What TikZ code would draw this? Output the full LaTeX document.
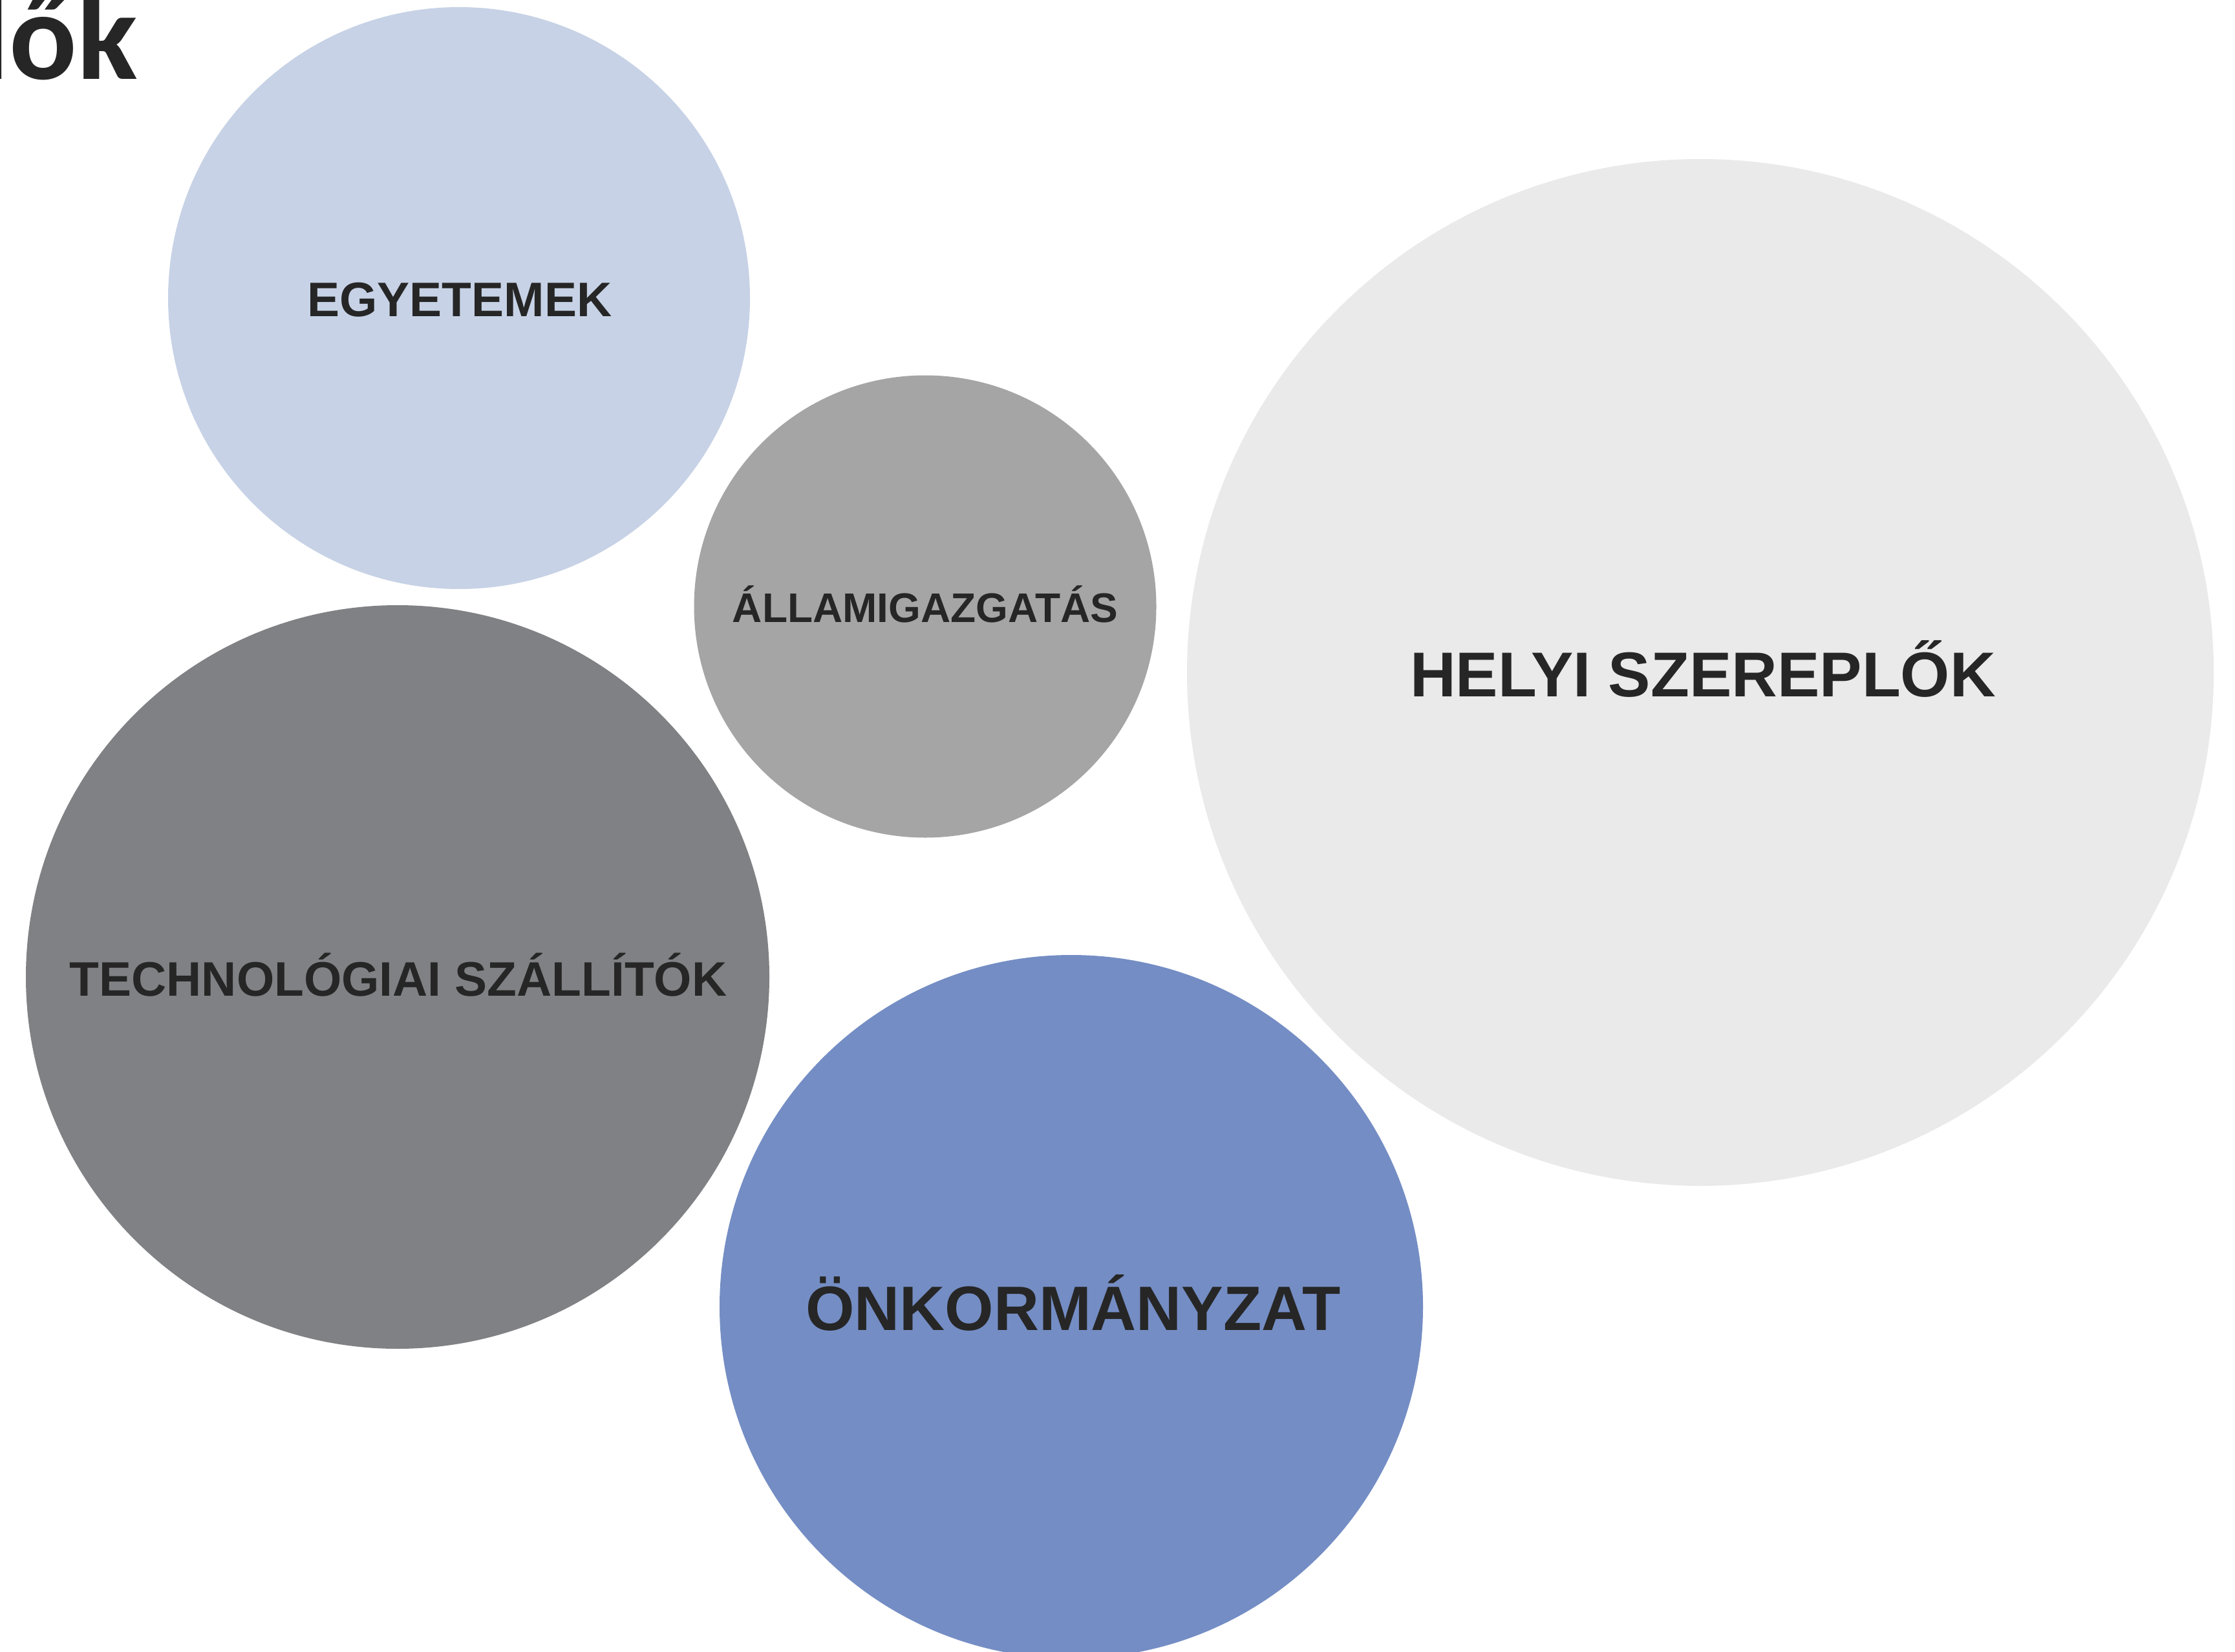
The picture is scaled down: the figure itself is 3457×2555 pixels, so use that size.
\documentclass[tikz,border=0pt]{standalone}
\usepackage{fontspec}
\setmainfont{Liberation Sans}
\newfontfamily\titlefont{Carlito}
\definecolor{txt}{HTML}{262626}
\definecolor{cEgy}{HTML}{C7D2E6}
\definecolor{cAll}{HTML}{A5A5A5}
\definecolor{cHel}{HTML}{EAEAEA}
\definecolor{cTec}{HTML}{808184}
\definecolor{cOnk}{HTML}{748DC4}
\begin{document}
\begin{tikzpicture}[x=1pt,y=-1pt,
  bubble/.style={circle, inner sep=0pt, outer sep=0pt, draw=none},
  lbl/.style={anchor=base, inner sep=0pt, text=txt, font=\bfseries}]
\useasboundingbox (0,0) rectangle (3457,2555);
\fill[white] (0,0) rectangle (3457,2555);
% circles
\node[bubble, fill=cEgy, minimum size=900pt] (egy) at (710,461) {};
\node[bubble, fill=cAll, minimum size=715pt] (all) at (1431,938) {};
\node[bubble, fill=cHel, minimum size=1588pt] (hel) at (2630,1040) {};
\node[bubble, fill=cTec, minimum size=1150pt] (tec) at (615,1511) {};
\node[bubble, fill=cOnk, minimum size=1088pt] (onk) at (1657,2021) {};
% labels
\node[lbl, font=\bfseries\fontsize{75}{80}\selectfont] (tegy) at (711,489) {EGYETEMEK};
\node[lbl, font=\bfseries\fontsize{64}{70}\selectfont] (tall) at (1431,962) {ÁLLAMIGAZGATÁS};
\node[lbl, font=\bfseries\fontsize{98}{104}\selectfont] (thel) at (2634,1077) {HELYI SZEREPLŐK};
\node[lbl, font=\bfseries\fontsize{75}{80}\selectfont] (ttec) at (616,1540) {TECHNOLÓGIAI SZÁLLÍTÓK};
\node[lbl, font=\bfseries\fontsize{97}{104}\selectfont] (tonk) at (1660,2057) {ÖNKORMÁNYZAT};
% title fragment
\node[anchor=base east, inner sep=0pt, text=txt, font=\titlefont\bfseries\fontsize{195}{200}\selectfont] (title) at (213.5,123) {lők};
\end{tikzpicture}
\end{document}
